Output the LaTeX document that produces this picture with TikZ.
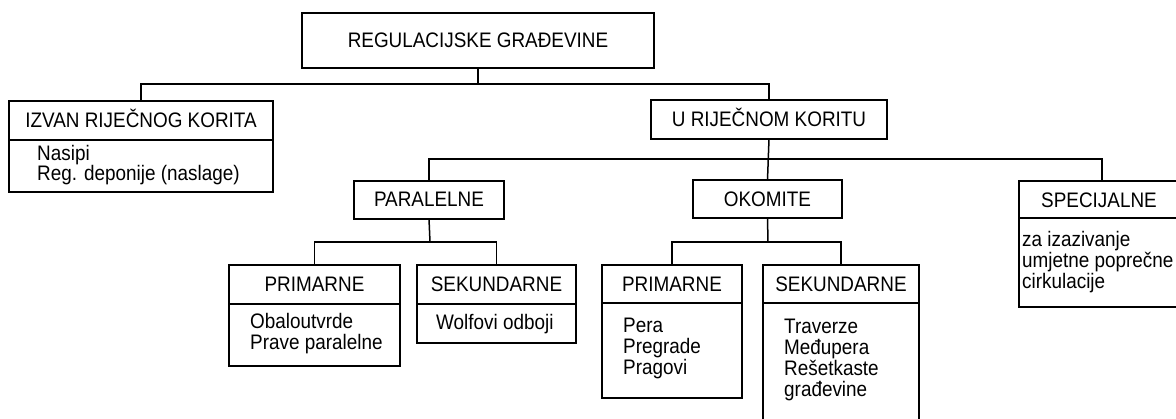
\documentclass[tikz,border=0pt]{standalone}
\usepackage{fontspec}
\setmainfont{Liberation Sans}[FakeStretch=0.9]
\begin{document}
\begin{tikzpicture}[x=1pt,y=-1pt,
  frame/.style={draw, line width=1.5pt, anchor=north west, inner sep=0pt, outer sep=0pt},
  ttl/.style={anchor=base, inner sep=0pt, font=\fontsize{21}{21}\selectfont},
  % multi-line contents are placed by the baseline of their last line
  body/.style={anchor=base west, inner sep=0pt, align=left, font=\fontsize{21}{21}\selectfont},
  link/.style={line width=1.5pt}]
\useasboundingbox (0,0) rectangle (1176,419);
\clip (0,0) rectangle (1176,419);
\fill[white] (0,0) rectangle (1176,419);

% boxes
\node[frame, minimum width=352pt, minimum height=55pt] (top) at (302,13) {};
\node[frame, minimum width=264pt, minimum height=91pt] (izvan) at (9,101) {};
\node[frame, minimum width=236pt, minimum height=39pt] (urk) at (651,100) {};
\node[frame, minimum width=150pt, minimum height=38pt] (par) at (354,181) {};
\node[frame, minimum width=149pt, minimum height=38pt] (oko) at (693,180) {};
\node[frame, minimum width=166pt, minimum height=126pt] (spec) at (1019,181) {};
\node[frame, minimum width=171pt, minimum height=101pt] (pp) at (229,265) {};
\node[frame, minimum width=159pt, minimum height=78pt] (ps) at (417,265) {};
\node[frame, minimum width=140pt, minimum height=133pt] (op) at (602,265) {};
\node[frame, minimum width=156pt, minimum height=170pt] (os) at (763,265) {};

% header dividers
\draw[link] ([yshift=-39pt]izvan.north west) -- ([yshift=-39pt]izvan.north east);
\draw[link] ([yshift=-37pt]spec.north west) -- ([yshift=-37pt]spec.north east);
\draw[link] ([yshift=-39pt]pp.north west) -- ([yshift=-39pt]pp.north east);
\draw[link] ([yshift=-39pt]ps.north west) -- ([yshift=-39pt]ps.north east);
\draw[link] ([yshift=-38pt]op.north west) -- ([yshift=-38pt]op.north east);
\draw[link] ([yshift=-38pt]os.north west) -- ([yshift=-38pt]os.north east);

% titles
\node[ttl] (topT) at (478,48) {REGULACIJSKE GRAĐEVINE};
\node[ttl] (izvanT) at (141,128) {IZVAN RIJEČNOG KORITA};
\node[ttl] (urkT) at (769,127) {U RIJEČNOM KORITU};
\node[ttl] (parT) at (429,207) {PARALELNE};
\node[ttl] (okoT) at (767.5,207) {OKOMITE};
\node[ttl] (specT) at (1099,208) {SPECIJALNE};
\node[ttl] (ppT) at (314.5,292) {PRIMARNE};
\node[ttl] (psT) at (496.5,292) {SEKUNDARNE};
\node[ttl] (opT) at (672,292) {PRIMARNE};
\node[ttl] (osT) at (841,292) {SEKUNDARNE};

% contents
\node[body, font=\fontsize{21}{18}\selectfont] (izvanB) at (37,181) {Nasipi\\Reg. deponije (naslage)};
\node[body] (specB) at (1022,289) {za izazivanje\\umjetne poprečne\\cirkulacije};
\node[body] (ppB) at (250,350) {Obaloutvrde\\Prave paralelne};
\node[body] (psB) at (436,330) {Wolfovi odboji};
\node[body] (opB) at (623,375) {Pera\\Pregrade\\Pragovi};
\node[body] (osB) at (784,397) {Traverze\\Međupera\\Rešetkaste\\građevine};

% connectors
\coordinate (b1) at (478,84);
\coordinate (b2) at (768,159);
\coordinate (b3) at (430,242);
\coordinate (b4) at (768,242);
\draw[link] (top.south) -- (b1);
\draw[link] (izvan.north) |- (b1) -| (urk.north);
\draw[link] (urk.south) -- (oko.north);
\draw[link] (par.north) |- (b2) -| (spec.north);
\draw[link] (par.south) -- (b3);
\draw[link] (pp.north) |- (b3) -| (ps.north);
\draw[link] (oko.south) -- (b4);
\draw[link] (op.north) |- (b4) -| (os.north);
\end{tikzpicture}
\end{document}
